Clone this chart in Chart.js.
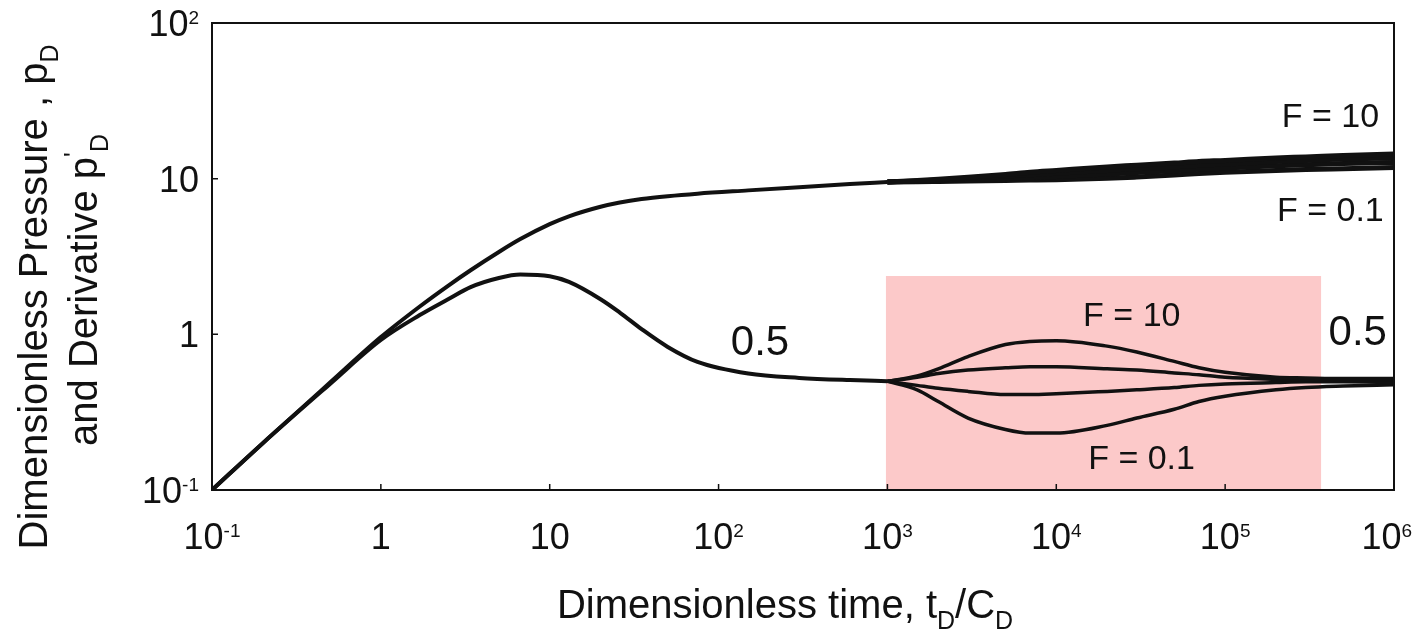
<!DOCTYPE html>
<html>
<head>
<meta charset="utf-8">
<script src="https://cdn.jsdelivr.net/npm/chart.js@4.4.1/dist/chart.umd.min.js"></script>
<style>
  html, body { margin: 0; padding: 0; background: #fff; }
  #wrap { width: 1414px; height: 631px; }
</style>
</head>
<body>
<div id="wrap"><canvas id="chart" width="1414" height="631"></canvas></div>
<script>
// early time: all curves coincide here
const timeEarly = [0.1, 0.2, 0.5, 1, 1.7, 2.5, 3.4, 5, 6.7, 10, 13, 20, 26, 35, 50, 75, 150, 300, 600, 1000];
const pressureEarly = [0.1, 0.2, 0.49, 0.96, 1.51, 2.05, 2.58, 3.38, 4.09, 5.1, 5.73, 6.6, 7.03, 7.4, 7.72, 8.01, 8.41, 8.82, 9.23, 9.53];
const derivEarly = [0.1, 0.2, 0.48, 0.92, 1.33, 1.68, 2.01, 2.3, 2.42, 2.36, 2.17, 1.68, 1.38, 1.08, 0.83, 0.665, 0.56, 0.525, 0.508, 0.5];

// late time: one curve per F value
const timeLate = [1000, 1500, 2000, 3000, 5000, 7000, 1e4, 2e4, 3e4, 5e4, 7e4, 1e5, 2e5, 3e5, 5e5, 1e6];
const fValues = ["10", "3", "0.3", "0.1"];
const pressureLate = [
  [9.53, 9.72, 9.9, 10.2, 10.65, 11.0, 11.3, 11.9, 12.2, 12.6, 12.9, 13.1, 13.6, 13.8, 14.1, 14.4],
  [9.53, 9.66, 9.8, 10.05, 10.4, 10.6, 10.85, 11.3, 11.6, 11.9, 12.2, 12.4, 12.9, 13.1, 13.4, 13.6],
  [9.53, 9.6, 9.68, 9.83, 10.03, 10.17, 10.33, 10.7, 10.95, 11.25, 11.5, 11.7, 12.1, 12.3, 12.5, 12.7],
  [9.53, 9.56, 9.6, 9.66, 9.74, 9.79, 9.85, 10.05, 10.25, 10.55, 10.8, 11.0, 11.3, 11.45, 11.6, 11.8]
];
const derivLate = [
  [0.5, 0.54, 0.6, 0.72, 0.86, 0.9, 0.91, 0.84, 0.77, 0.67, 0.61, 0.57, 0.53, 0.525, 0.52, 0.52],
  [0.5, 0.53, 0.56, 0.59, 0.61, 0.62, 0.62, 0.6, 0.59, 0.565, 0.55, 0.53, 0.515, 0.51, 0.51, 0.51],
  [0.5, 0.47, 0.45, 0.43, 0.41, 0.41, 0.415, 0.43, 0.44, 0.455, 0.47, 0.48, 0.49, 0.495, 0.495, 0.49],
  [0.5, 0.44, 0.37, 0.29, 0.245, 0.232, 0.232, 0.26, 0.29, 0.33, 0.37, 0.4, 0.44, 0.455, 0.465, 0.475]
];

// tick labels as [base, exponent]
const xTicks = [0.1, 1, 10, 100, 1e3, 1e4, 1e5, 1e6];
const xTickLabels = [["10", "-1"], ["1", ""], ["10", ""], ["10", "2"], ["10", "3"], ["10", "4"], ["10", "5"], ["10", "6"]];
const yTicks = [0.1, 1, 10, 100];
const yTickLabels = [["10", "-1"], ["1", ""], ["10", ""], ["10", "2"]];

// highlighted region (data space)
const shadeTime = [980, 3.7e5];
const shadeValue = [0.1, 2.37];

// curve labels, placed in data space
const notes = [
  { text: "F = 10", x: 4.2e5, y: 24.5, size: 34 },
  { text: "F = 0.1", x: 4.2e5, y: 6.1, size: 34 },
  { text: "0.5", x: 176, y: 0.88, size: 42 },
  { text: "0.5", x: 6.1e5, y: 1.02, size: 42 },
  { text: "F = 10", x: 2.8e4, y: 1.29, size: 34 },
  { text: "F = 0.1", x: 3.2e4, y: 0.156, size: 34 }
];

const FONT = "'Liberation Sans', Arial, sans-serif";
const INK = "#111";
const TICK_SIZE = 36;
const EXP_SIZE = 19;

const toPoints = (xs, ys) => xs.map((x, i) => ({ x: x, y: ys[i] }));

const lineStyle = (w) => ({
  borderColor: INK,
  borderWidth: w,
  pointRadius: 0,
  fill: false,
  cubicInterpolationMode: "monotone"
});

const datasets = [
  Object.assign({ label: "p_D", data: toPoints(timeEarly, pressureEarly) }, lineStyle(4)),
  Object.assign({ label: "p'_D", data: toPoints(timeEarly, derivEarly) }, lineStyle(4))
];
fValues.forEach((f, i) => {
  datasets.push(Object.assign({ label: "p_D F = " + f, data: toPoints(timeLate, pressureLate[i]) }, lineStyle(5)));
  datasets.push(Object.assign({ label: "p'_D F = " + f, data: toPoints(timeLate, derivLate[i]) }, lineStyle(3.5)));
});

// draw text with sub/superscript parts
function richText(ctx, parts, size, cx, baseY) {
  const small = Math.round(size * 0.62);
  let w = 0;
  parts.forEach(p => {
    ctx.font = (p.sub || p.sup ? small : size) + "px " + FONT;
    p.w = ctx.measureText(p.t).width;
    w += p.w;
  });
  let x = cx - w / 2;
  ctx.textAlign = "left";
  ctx.textBaseline = "alphabetic";
  parts.forEach(p => {
    ctx.font = (p.sub || p.sup ? small : size) + "px " + FONT;
    let dy = 0;
    if (p.sub) dy = size * 0.28;
    if (p.sup) dy = -size * 0.38;
    ctx.fillText(p.t, x, baseY + dy);
    x += p.w;
  });
}

// power-of-ten tick label; anchor: "center" or "right"
function powerLabel(ctx, lab, x, baseY, anchor) {
  ctx.textAlign = "left";
  ctx.textBaseline = "alphabetic";
  ctx.font = TICK_SIZE + "px " + FONT;
  const wb = ctx.measureText(lab[0]).width;
  ctx.font = EXP_SIZE + "px " + FONT;
  const we = lab[1] ? ctx.measureText(lab[1]).width : 0;
  const w = wb + we;
  let left = anchor === "right" ? x - w : x - w / 2;
  if (left + w > 1412) left = 1412 - w;
  ctx.font = TICK_SIZE + "px " + FONT;
  ctx.fillText(lab[0], left, baseY);
  if (lab[1]) {
    ctx.font = EXP_SIZE + "px " + FONT;
    ctx.fillText(lab[1], left + wb, baseY - 12);
  }
}

const decor = {
  id: "decor",
  beforeDatasetsDraw(chart) {
    const { ctx, scales } = chart;
    const l = scales.x.getPixelForValue(shadeTime[0]);
    const r = scales.x.getPixelForValue(shadeTime[1]);
    const t = scales.y.getPixelForValue(shadeValue[1]);
    const b = scales.y.getPixelForValue(shadeValue[0]);
    ctx.save();
    ctx.fillStyle = "#fcc9c9";
    ctx.fillRect(l, t, r - l, b - t);
    ctx.restore();
  },
  afterDraw(chart) {
    const { ctx, chartArea: a, scales } = chart;
    ctx.save();
    // frame
    ctx.strokeStyle = INK;
    ctx.lineWidth = 2;
    ctx.strokeRect(a.left, a.top, a.right - a.left, a.bottom - a.top);
    // small inward ticks
    ctx.lineWidth = 1.5;
    ctx.beginPath();
    xTicks.forEach(v => {
      const px = scales.x.getPixelForValue(v);
      ctx.moveTo(px, a.bottom);
      ctx.lineTo(px, a.bottom - 6);
    });
    yTicks.forEach(v => {
      const py = scales.y.getPixelForValue(v);
      ctx.moveTo(a.left, py);
      ctx.lineTo(a.left + 6, py);
    });
    ctx.stroke();

    ctx.fillStyle = INK;
    // tick labels
    xTicks.forEach((v, i) => powerLabel(ctx, xTickLabels[i], scales.x.getPixelForValue(v), a.bottom + 59, "center"));
    yTicks.forEach((v, i) => powerLabel(ctx, yTickLabels[i], 199, scales.y.getPixelForValue(v) + 13, "right"));

    // labels on the curves
    ctx.textAlign = "center";
    ctx.textBaseline = "middle";
    notes.forEach(n => {
      ctx.font = n.size + "px " + FONT;
      ctx.fillText(n.text, scales.x.getPixelForValue(n.x), scales.y.getPixelForValue(n.y));
    });

    // axis titles
    richText(ctx, [{ t: "Dimensionless time, t" }, { t: "D", sub: true }, { t: "/C" }, { t: "D", sub: true }], 40, 785, 618);
    ctx.save();
    ctx.translate(47, 297);
    ctx.rotate(-Math.PI / 2);
    richText(ctx, [{ t: "Dimensionless Pressure , p" }, { t: "D", sub: true }], 40, 0, 0);
    ctx.restore();
    ctx.save();
    ctx.translate(97, 290);
    ctx.rotate(-Math.PI / 2);
    richText(ctx, [{ t: "and Derivative p" }, { t: "'", sup: true }, { t: "D", sub: true }], 40, 0, 0);
    ctx.restore();
    ctx.restore();
  }
};

new Chart(document.getElementById("chart"), {
  type: "line",
  data: { datasets: datasets },
  options: {
    responsive: false,
    animation: false,
    devicePixelRatio: 1,
    layout: { padding: { left: 0, top: 23, right: 20, bottom: 0 } },
    plugins: { legend: { display: false }, tooltip: { enabled: false } },
    scales: {
      x: {
        type: "logarithmic",
        min: 0.1,
        max: 1e6,
        afterBuildTicks: s => { s.ticks = xTicks.map(v => ({ value: v })); },
        afterFit: s => { s.height = 141; s.paddingLeft = 0; s.paddingRight = 0; },
        grid: { display: false },
        border: { display: false },
        ticks: { display: false }
      },
      y: {
        type: "logarithmic",
        min: 0.1,
        max: 100,
        afterBuildTicks: s => { s.ticks = yTicks.map(v => ({ value: v })); },
        afterFit: s => { s.width = 212; s.paddingTop = 0; s.paddingBottom = 0; },
        grid: { display: false },
        border: { display: false },
        ticks: { display: false }
      }
    }
  },
  plugins: [decor]
});
</script>
</body>
</html>
